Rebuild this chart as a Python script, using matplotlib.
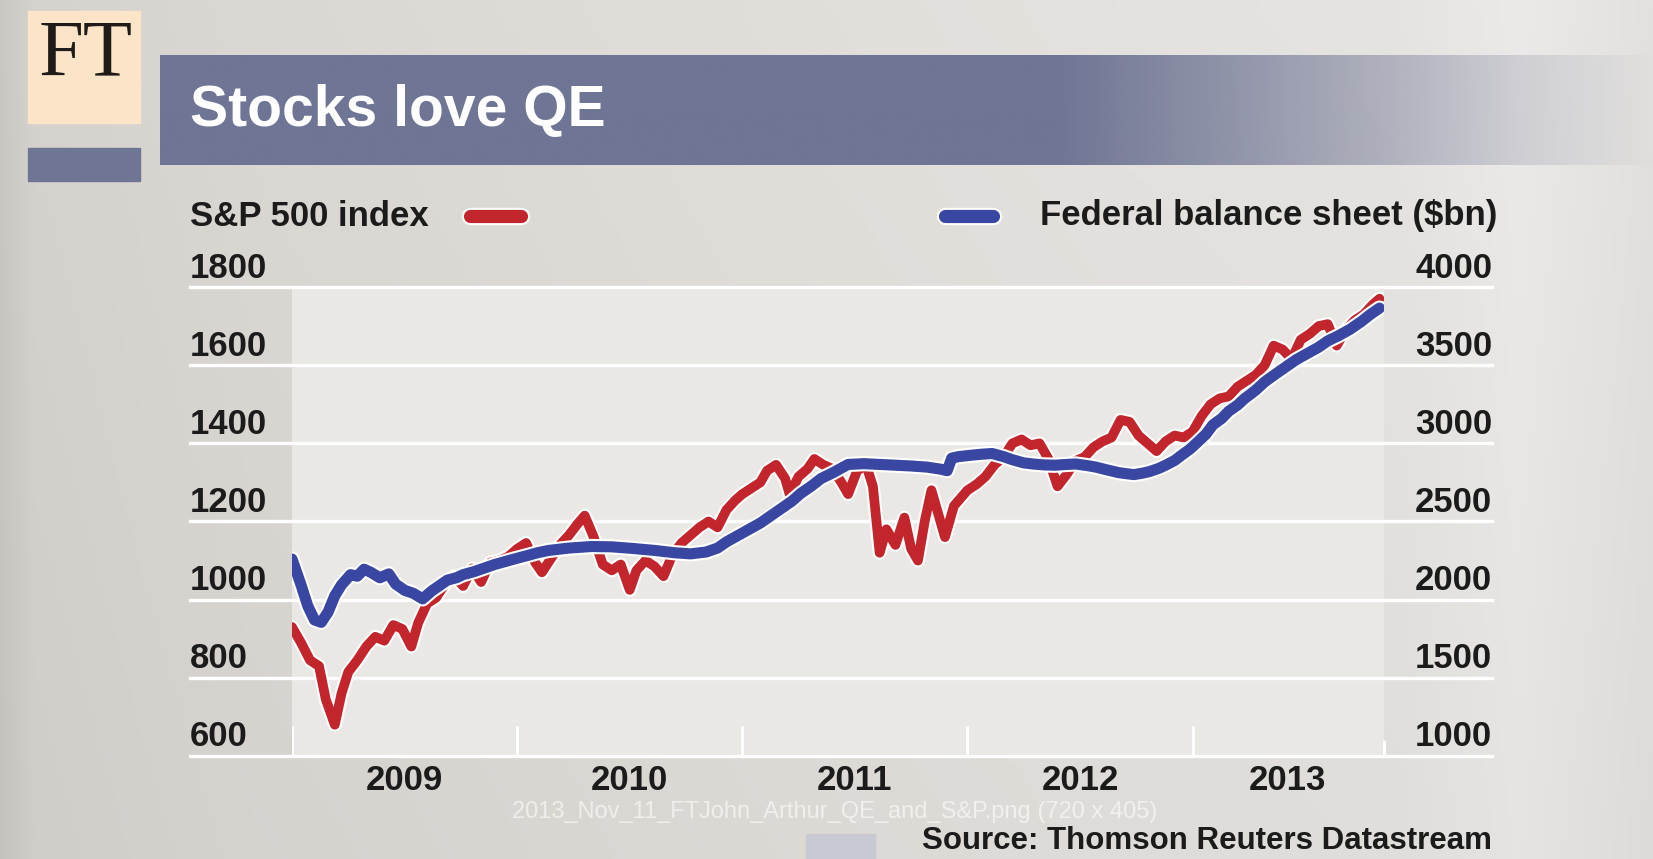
import numpy as np
import matplotlib
matplotlib.use("Agg")
import matplotlib.pyplot as plt
import matplotlib.patheffects as pe
from matplotlib.patches import Rectangle
from matplotlib.colors import to_rgb
from matplotlib.transforms import offset_copy, blended_transform_factory

plt.rcParams['font.family'] = ['Liberation Sans', 'DejaVu Sans']

# S&P 500 index (fractional years, index level)
sp_t = [2009.00, 2009.04, 2009.08, 2009.12, 2009.15, 2009.19, 2009.22, 2009.25, 2009.29, 2009.33,
        2009.37, 2009.41, 2009.45, 2009.49, 2009.53, 2009.56, 2009.60, 2009.64, 2009.68, 2009.72,
        2009.76, 2009.80, 2009.84, 2009.88, 2009.92, 2009.96,
        2010.00, 2010.04, 2010.08, 2010.11, 2010.15, 2010.19, 2010.23, 2010.27, 2010.30, 2010.34,
        2010.38, 2010.42, 2010.46, 2010.50, 2010.53, 2010.57, 2010.61, 2010.65, 2010.69, 2010.73,
        2010.77, 2010.81, 2010.85, 2010.89, 2010.93, 2010.97,
        2011.00, 2011.04, 2011.08, 2011.11, 2011.15, 2011.19, 2011.21, 2011.25, 2011.29, 2011.32,
        2011.36, 2011.40, 2011.44, 2011.47, 2011.51, 2011.55, 2011.58, 2011.61, 2011.64, 2011.68,
        2011.72, 2011.75, 2011.78, 2011.81, 2011.84, 2011.87, 2011.90, 2011.94, 2011.97,
        2012.00, 2012.04, 2012.08, 2012.12, 2012.16, 2012.20, 2012.24, 2012.28, 2012.32, 2012.36,
        2012.40, 2012.44, 2012.48, 2012.52, 2012.56, 2012.60, 2012.64, 2012.68, 2012.72, 2012.76,
        2012.80, 2012.84, 2012.88, 2012.92, 2012.96,
        2013.00, 2013.04, 2013.08, 2013.12, 2013.16, 2013.20, 2013.24, 2013.28, 2013.32, 2013.36,
        2013.40, 2013.44, 2013.48, 2013.52, 2013.56, 2013.60, 2013.64, 2013.68, 2013.72, 2013.76,
        2013.80, 2013.83]
sp_v = [930, 890, 845, 830, 745, 680, 760, 815, 845, 880,
        905, 895, 935, 925, 880, 940, 990, 1005, 1040, 1060,
        1035, 1080, 1045, 1095, 1100, 1110,
        1130, 1145, 1095, 1070, 1105, 1140, 1165, 1195, 1215, 1160,
        1090, 1075, 1090, 1025, 1075, 1100, 1085, 1060, 1115, 1145,
        1165, 1185, 1200, 1185, 1230, 1255,
        1270, 1285, 1300, 1330, 1345, 1310, 1270, 1315, 1335, 1360,
        1345, 1335, 1300, 1270, 1330, 1345, 1290, 1120, 1180, 1140,
        1210, 1130, 1100, 1200, 1280, 1220, 1160, 1240, 1260,
        1280, 1295, 1315, 1345, 1365, 1400, 1410, 1395, 1400, 1360,
        1290, 1320, 1355, 1365, 1390, 1405, 1415, 1460, 1455, 1420,
        1400, 1380, 1405, 1420, 1415,
        1430, 1470, 1500, 1515, 1520, 1545, 1560, 1575, 1600, 1650,
        1640, 1615, 1665, 1680, 1700, 1705, 1650, 1690, 1715, 1730,
        1755, 1770]

# Federal Reserve balance sheet ($bn)
fed_t = [2009.00, 2009.04, 2009.07, 2009.10, 2009.13, 2009.16, 2009.19, 2009.22, 2009.26, 2009.29,
         2009.32, 2009.35, 2009.39, 2009.43, 2009.46, 2009.50, 2009.54, 2009.58, 2009.62, 2009.66,
         2009.69, 2009.73, 2009.76, 2009.81, 2009.86, 2009.90, 2009.95,
         2010.00, 2010.04, 2010.09, 2010.14, 2010.23, 2010.33, 2010.42, 2010.51, 2010.61, 2010.70,
         2010.77, 2010.84, 2010.89, 2010.93, 2010.98,
         2011.03, 2011.08, 2011.12, 2011.17, 2011.22, 2011.26, 2011.31, 2011.35, 2011.40, 2011.47,
         2011.54, 2011.61, 2011.68, 2011.75, 2011.82, 2011.88, 2011.91, 2011.93, 2011.96,
         2012.01, 2012.06, 2012.11, 2012.16, 2012.20, 2012.25, 2012.29, 2012.34, 2012.39, 2012.44,
         2012.48, 2012.53, 2012.57, 2012.62, 2012.67, 2012.71, 2012.74, 2012.78, 2012.81, 2012.85,
         2012.88, 2012.92, 2012.95, 2012.99,
         2013.02, 2013.06, 2013.09, 2013.13, 2013.16, 2013.20, 2013.23, 2013.28, 2013.32, 2013.37,
         2013.42, 2013.46, 2013.51, 2013.56, 2013.60, 2013.65, 2013.70, 2013.75, 2013.79, 2013.83]
fed_v = [2260, 2095, 1960, 1870, 1855, 1920, 2025, 2095, 2160, 2150,
         2195, 2175, 2140, 2165, 2100, 2060, 2040, 2005, 2055, 2095,
         2125, 2140, 2160, 2180, 2205, 2225, 2245,
         2265, 2280, 2300, 2315, 2330, 2340, 2338, 2328, 2315, 2300,
         2293, 2305, 2330, 2370, 2410,
         2450, 2490, 2530, 2580, 2630, 2680, 2730, 2775, 2810, 2865,
         2870, 2865, 2860, 2855, 2848, 2835, 2825, 2905, 2915,
         2923, 2930, 2935, 2915, 2895, 2875, 2868, 2862, 2860, 2865,
         2868, 2858, 2848, 2830, 2813, 2805, 2800, 2810, 2820, 2840,
         2860, 2890, 2923, 2965,
         3005, 3060, 3118, 3160, 3205, 3245, 3285, 3340, 3393, 3445,
         3495, 3535, 3575, 3615, 3655, 3690, 3730, 3780, 3825, 3865]

left_ticks = [600, 800, 1000, 1200, 1400, 1600, 1800]
right_ticks = [1000, 1500, 2000, 2500, 3000, 3500, 4000]
year_ticks = [2009, 2010, 2011, 2012, 2013]
year_labels = ['2009', '2010', '2011', '2012', '2013']
year_label_pos = [2009.5, 2010.5, 2011.5, 2012.5, 2013.42]

RED = '#c2262c'
BLUE = '#3a47a2'
BANNER = '#6f7594'
INK = '#1b1b1b'
W, H = 1653, 859

fig = plt.figure(figsize=(W / 100, H / 100), dpi=100)

# background layer in pixel coordinates
bg = fig.add_axes([0, 0, 1, 1])
bg.set_xlim(0, W)
bg.set_ylim(H, 0)
bg.axis('off')

stops_x = [0.0, 0.02, 0.15, 0.5, 0.85, 0.92, 1.0]
stops_c = ['#cbc8c4', '#d6d3cf', '#dbd8d4', '#e2dfdb', '#e6e4e1', '#eceae8', '#e3e1de']
xs = np.linspace(0, 1, 400)
rgb = np.array([to_rgb(c) for c in stops_c])
row = np.stack([np.interp(xs, stops_x, rgb[:, k]) for k in range(3)], axis=1)
shade = np.linspace(1.0, 0.975, 100)[:, None, None]
bg.imshow(row[None, :, :] * shade, extent=[0, W, H, 0], aspect='auto', zorder=0)

# title banner fading out to the right
bx = np.linspace(160, W, 600)
alpha = np.clip((1660 - bx) / (1660 - 1060), 0, 1)
banner = np.zeros((1, len(bx), 4))
banner[0, :, :3] = to_rgb(BANNER)
banner[0, :, 3] = alpha
bg.imshow(banner, extent=[160, W, 165, 55], aspect='auto', zorder=1)
bg.text(190, 111, 'Stocks love QE', fontsize=41, weight='bold', color='white',
        va='center', ha='left', zorder=2)

# FT masthead block
bg.add_patch(Rectangle((28, 11), 112, 112, color='#fce4c9', zorder=1))
bg.add_patch(Rectangle((28, 148), 112, 33, color=BANNER, zorder=1))
bg.text(86, 56, 'FT', fontsize=58, color='#1e1b18', ha='center', va='center',
        family=['Liberation Serif', 'DejaVu Serif'], zorder=2)

# legend
bg.text(190, 216, 'S&P 500 index', fontsize=25, weight='bold', color=INK, va='center', zorder=2)
bg.text(1497, 216, 'Federal balance sheet ($bn)', fontsize=25, weight='bold', color=INK,
        va='center', ha='right', zorder=2)
swatch_fx = [pe.Stroke(linewidth=12.5, foreground='white'), pe.Normal()]
bg.plot([470, 521], [216, 216], color=RED, lw=9.5, solid_capstyle='round',
        path_effects=swatch_fx, zorder=2)
bg.plot([945, 993], [216, 216], color=BLUE, lw=9.5, solid_capstyle='round',
        path_effects=swatch_fx, zorder=2)

# footer
bg.text(1492, 841, 'Source: Thomson Reuters Datastream', fontsize=22.5, weight='bold',
        color=INK, ha='right', va='center', zorder=2)
bg.add_patch(Rectangle((806, 834), 69, 25, color='#c9c9d3', zorder=1))

# chart panel
x0, x1, y0, y1 = 292, 1384, 287, 756
ax = fig.add_axes([x0 / W, 1 - y1 / H, (x1 - x0) / W, (y1 - y0) / H])
ax.set_facecolor('#eae8e5')
ax.set_xlim(2009.0, 2013.85)
ax.set_ylim(600, 1800)
for s in ax.spines.values():
    s.set_visible(False)
ax.set_xticks([])
ax.set_yticks([])

gl_left = (190 - x0) / (x1 - x0)
gl_right = (1492 - x0) / (x1 - x0)
for v in left_ticks:
    ax.axhline(v, xmin=gl_left, xmax=gl_right, color='white', lw=2.4, clip_on=False, zorder=1)
ax.vlines(year_ticks, 600, 678, color='white', lw=2.2, zorder=1)
ax.vlines(2013.85, 600, 640, color='white', lw=2.2, clip_on=False, zorder=1)

lab_tr = offset_copy(blended_transform_factory(ax.transAxes, ax.transData), fig=fig, y=19, units='dots')
for v in left_ticks:
    ax.text(gl_left, v, str(v), transform=lab_tr, fontsize=25, weight='bold', color=INK,
            ha='left', va='center', clip_on=False)

yr_tr = offset_copy(ax.transData, fig=fig, y=-25, units='dots')
for pos, lab in zip(year_label_pos, year_labels):
    ax.text(pos, 600, lab, transform=yr_tr, fontsize=25, weight='bold', color=INK,
            ha='center', va='center', clip_on=False)

ax.plot(sp_t, sp_v, color=RED, lw=7, solid_joinstyle='round', solid_capstyle='round',
        path_effects=[pe.Stroke(linewidth=10, foreground='white'), pe.Normal()], zorder=3)

ax2 = ax.twinx()
ax2.set_ylim(1000, 4000)
ax2.axis('off')
ax2.plot(fed_t, fed_v, color=BLUE, lw=8, solid_joinstyle='round', solid_capstyle='round',
         path_effects=[pe.Stroke(linewidth=11, foreground='white'), pe.Normal()], zorder=3)

rlab_tr = offset_copy(blended_transform_factory(ax2.transAxes, ax2.transData), fig=fig, y=19, units='dots')
for v in right_ticks:
    ax2.text(gl_right, v, str(v), transform=rlab_tr, fontsize=25, weight='bold', color=INK,
             ha='right', va='center', clip_on=False)

# file caption overlaid at the bottom
fig.text(835 / W, 1 - 812 / H, '2013_Nov_11_FTJohn_Arthur_QE_and_S&P.png (720 x 405)',
         fontsize=17, color='white', alpha=0.6, ha='center', va='center')

fig.savefig('out.png', dpi=100)
